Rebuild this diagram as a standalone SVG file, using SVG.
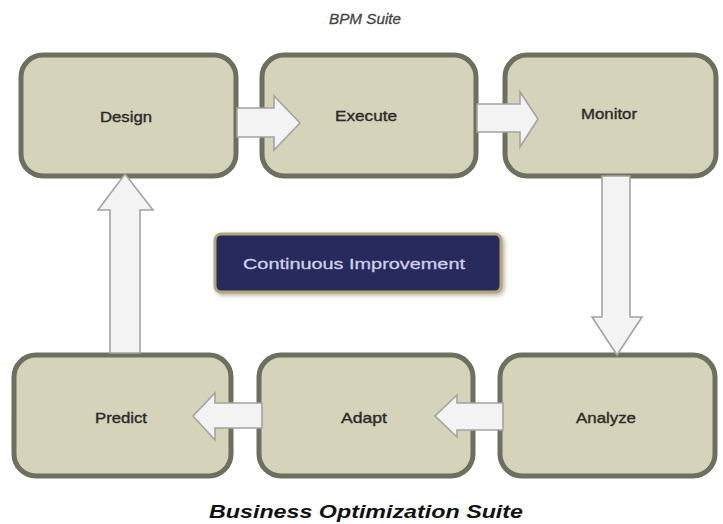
<svg xmlns="http://www.w3.org/2000/svg" width="723" height="524" viewBox="0 0 723 524">
  <defs>
    <style>
      .box { fill: #d5d3ba; stroke: #6d705e; stroke-width: 5; }
      .label { font-family: "Liberation Sans", Arial, sans-serif; font-size: 14.5px; fill: #2a2a26; stroke: #2a2a26; stroke-width: 0.35; text-anchor: middle; }
      .arrow { fill: #f3f3f3; stroke: #a3a3a0; stroke-width: 1.6; stroke-linejoin: miter; }
      .title { font-family: "Liberation Sans", Arial, sans-serif; text-anchor: middle; }
    </style>
    <filter id="soft" x="-10%" y="-20%" width="120%" height="140%">
      <feGaussianBlur in="SourceAlpha" stdDeviation="2"/>
      <feOffset dx="2" dy="2" result="b"/>
      <feFlood flood-color="#8a8060" flood-opacity="0.6"/>
      <feComposite in2="b" operator="in"/>
      <feMerge><feMergeNode/><feMergeNode in="SourceGraphic"/></feMerge>
    </filter>
  </defs>

  <rect width="723" height="524" fill="#ffffff"/>

  <!-- headings -->
  <text class="title" x="365" y="24" font-size="14" font-style="italic" fill="#454545" stroke="#454545" stroke-width="0.3" textLength="72" lengthAdjust="spacingAndGlyphs">BPM Suite</text>
  <text class="title" x="366" y="518" font-size="18" font-style="italic" font-weight="bold" fill="#111111" textLength="314" lengthAdjust="spacingAndGlyphs">Business Optimization Suite</text>

  <!-- process steps -->
  <g id="design">
    <rect class="box" x="21" y="55" width="215" height="121" rx="22"/>
    <text class="label" x="126" y="122" textLength="52" lengthAdjust="spacingAndGlyphs">Design</text>
  </g>
  <g id="execute">
    <rect class="box" x="262" y="55" width="214" height="121" rx="22"/>
    <text class="label" x="366" y="121" textLength="62" lengthAdjust="spacingAndGlyphs">Execute</text>
  </g>
  <g id="monitor">
    <rect class="box" x="505" y="55" width="211" height="121" rx="22"/>
    <text class="label" x="609" y="119" textLength="56" lengthAdjust="spacingAndGlyphs">Monitor</text>
  </g>
  <g id="analyze">
    <rect class="box" x="500" y="355" width="215" height="121" rx="22"/>
    <text class="label" x="606" y="423" textLength="60" lengthAdjust="spacingAndGlyphs">Analyze</text>
  </g>
  <g id="adapt">
    <rect class="box" x="259" y="355" width="214" height="121" rx="22"/>
    <text class="label" x="364" y="423" textLength="46" lengthAdjust="spacingAndGlyphs">Adapt</text>
  </g>
  <g id="predict">
    <rect class="box" x="14" y="355" width="217" height="121" rx="22"/>
    <text class="label" x="121" y="423" textLength="52" lengthAdjust="spacingAndGlyphs">Predict</text>
  </g>

  <g id="continuous-improvement">
    <rect x="215" y="234" width="286" height="58" rx="6" fill="#282a5c" stroke="#b3a678" stroke-width="3" filter="url(#soft)"/>
    <text class="title" x="354" y="269" font-size="15" fill="#cfd0e6" stroke="#cfd0e6" stroke-width="0.3" textLength="222" lengthAdjust="spacingAndGlyphs">Continuous Improvement</text>
  </g>

  <!-- block arrows between steps -->
  <g id="connectors">
    <!-- Design to Execute -->
    <polygon class="arrow" points="237,108 274,108 274,96 300,123 274,150 274,137 237,137"/>
    <!-- Execute to Monitor -->
    <polygon class="arrow" points="477,104 520,104 520,92 538,119 520,147 520,132 477,132"/>
    <!-- Monitor to Analyze -->
    <polygon class="arrow" points="602,176 630,176 630,317 642,317 617,355 592,317 602,317"/>
    <!-- Analyze to Adapt -->
    <polygon class="arrow" points="503,403 457,403 457,395 435,416 457,437 457,430 503,430"/>
    <!-- Adapt to Predict -->
    <polygon class="arrow" points="262,403 215,403 215,393 193,416 215,440 215,428 262,428"/>
    <!-- Predict to Design -->
    <polygon class="arrow" points="110,353 110,210 98,210 125,174 153,210 140,210 140,353"/>
  </g>
</svg>
